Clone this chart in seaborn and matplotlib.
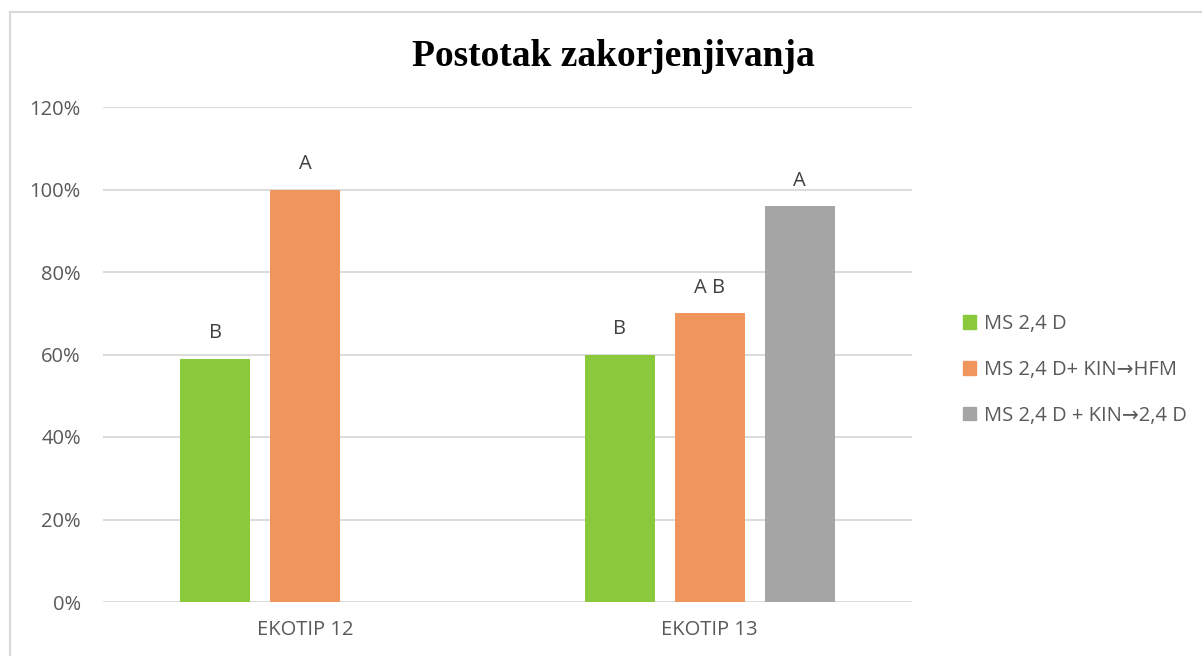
import matplotlib
matplotlib.use("Agg")
import matplotlib.pyplot as plt
import seaborn as sns
import pandas as pd
from matplotlib.patches import Rectangle
from matplotlib.ticker import FuncFormatter

categories = ["EKOTIP 12", "EKOTIP 12", "EKOTIP 13", "EKOTIP 13", "EKOTIP 13"]
treatments = ["MS 2,4 D", "MS 2,4 D+ KIN\u2192HFM",
              "MS 2,4 D", "MS 2,4 D+ KIN\u2192HFM", "MS 2,4 D + KIN\u21922,4 D"]
values = [0.59, 1.00, 0.60, 0.70, 0.96]
letters = ["B", "A", "B", "A B", "A"]

hue_order = ["MS 2,4 D", "MS 2,4 D+ KIN\u2192HFM", "MS 2,4 D + KIN\u21922,4 D"]
colors = ["#8BC93C", "#F0965D", "#A5A5A5"]
yticks = [0, 0.2, 0.4, 0.6, 0.8, 1.0, 1.2]

df = pd.DataFrame({"cat": categories, "trt": treatments, "val": values, "lab": letters})

sns.set_theme(style="white")
plt.rcParams["font.family"] = ["Open Sans", "DejaVu Sans"]
text_color = "#595959"

fig = plt.figure(figsize=(12.02, 6.56), dpi=100)
ax = fig.add_axes([103/1202, 1-602/656, (912-103)/1202, (602-107)/656])

sns.barplot(data=df, x="cat", y="val", hue="trt", hue_order=hue_order,
            palette=colors, width=0.667, gap=0.22, ax=ax, legend=True,
            saturation=1, errorbar=None, linewidth=0)

for cont, trt in zip(ax.containers, hue_order):
    labs = list(df.loc[df.trt == trt, "lab"])
    ax.bar_label(cont, labels=labs, padding=11, fontsize=14.5, color="#404040")

ax.set_ylim(0, 1.2)
ax.set_xlim(-0.5, 1.5)
ax.set_yticks(yticks)
ax.yaxis.set_major_formatter(FuncFormatter(lambda v, p: f"{v*100:.0f}%"))
ax.set_xlabel("")
ax.set_ylabel("")
ax.grid(axis="y", color="#D9D9D9", linewidth=1.3)
ax.set_axisbelow(True)
for s in ax.spines.values():
    s.set_visible(False)
ax.tick_params(axis="both", length=0, labelsize=14.5, labelcolor=text_color)
ax.tick_params(axis="y", pad=16)
ax.tick_params(axis="x", pad=13)

ax.legend_.remove()
handles = [plt.Rectangle((0, 0), 1, 1, color=c) for c in colors]
leg = fig.legend(handles, hue_order, loc="center left",
                 bbox_to_anchor=(945/1202, 1-370/656), frameon=False,
                 fontsize=14.5, handlelength=0.65, handleheight=0.65,
                 handletextpad=0.4, labelspacing=1.28, labelcolor=text_color)

fig.text(613/1202, 1-57/656, "Postotak zakorjenjivanja", ha="center", va="center",
         fontsize=27, fontweight="bold", family="Liberation Serif", color="black")

fig.patches.append(Rectangle((10/1202, -0.1), 1.2, 1.1 - 12/656, transform=fig.transFigure,
                             fill=False, edgecolor="#D9D9D9", linewidth=1.5))

fig.savefig("out.png", dpi=100)
